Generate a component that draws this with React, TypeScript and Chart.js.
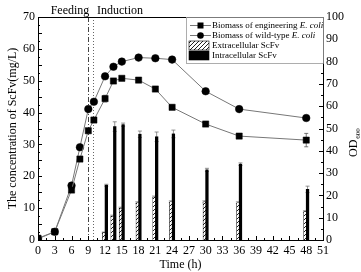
import { useEffect, useRef } from 'react';
import { Chart, registerables } from 'chart.js';

Chart.register(...registerables);

const SERIF = '"Liberation Serif", "Times New Roman", serif';

// Sampling times (h) for biomass (OD600)
const hours = [0, 3, 6, 7.5, 9, 10, 12, 13.5, 15, 18, 21, 24, 30, 36, 48];
const engineeringOD = [0.8, 3.7, 22.4, 36.3, 49.0, 53.8, 63.4, 71.3, 72.5, 71.7, 67.7, 59.5, 52.0, 46.6, 44.8];
const engineeringErr = [0, 0, 1, 1, 0.5, 0.5, 1.5, 1, 0.5, 0.5, 0.5, 1, 0.5, 1, 3];
const wildTypeOD = [0.5, 3.7, 24.4, 41.6, 58.7, 62.0, 73.4, 77.7, 80.0, 81.8, 81.5, 80.9, 66.7, 58.7, 54.7];
const wildTypeErr = [0, 0, 1, 1, 0.5, 0.5, 0.5, 0.5, 0.5, 0.5, 0.5, 0.5, 0.5, 0.5, 0.5];

// ScFv concentration (mg/L) after induction
const sampleHours = [12, 13.5, 15, 18, 21, 24, 30, 36, 48];
const extracellular = [2.3, 7.5, 10.0, 11.7, 13.5, 12.0, 12.0, 11.7, 8.9];
const extracellularErr = [0.2, 0.3, 0.3, 0.3, 0.3, 0.3, 0.3, 0.3, 0.3];
const intracellular = [17.2, 35.6, 36.2, 33.2, 32.4, 33.3, 22.0, 23.8, 15.9];
const intracellularErr = [0.3, 1.5, 0.5, 1.0, 1.5, 1.2, 0.5, 0.4, 1.0];

// Process events
const feedingHour = 9;
const inductionHour = 9.8;

// Axis ranges
const timeMax = 51;
const timeStep = 3;
const concMax = 70;
const concStep = 5;
const odMax = 100;
const odStep = 10;

const legendItems = [
  { label: 'Biomass of engineering ', italic: 'E. coli', kind: 'square' },
  { label: 'Biomass of wild-type ', italic: 'E. coli', kind: 'circle' },
  { label: 'Extracellular ScFv', italic: '', kind: 'hatch' },
  { label: 'Intracellular ScFv', italic: '', kind: 'solid' },
];

function makeHatch(): CanvasPattern | string {
  const c = document.createElement('canvas');
  c.width = 4;
  c.height = 4;
  const g = c.getContext('2d');
  if (!g) return '#999';
  g.fillStyle = '#fff';
  g.fillRect(0, 0, 4, 4);
  g.strokeStyle = '#222';
  g.lineWidth = 1;
  g.beginPath();
  g.moveTo(0, 4);
  g.lineTo(4, 0);
  g.moveTo(-1, 1);
  g.lineTo(1, -1);
  g.moveTo(3, 5);
  g.lineTo(5, 3);
  g.stroke();
  return g.createPattern(c, 'repeat') || '#999';
}

const decorations = {
  id: 'decorations',
  beforeDatasetsDraw(chart: any) {
    const { ctx, chartArea: a, scales } = chart;
    const x = scales.x;
    ctx.save();
    ctx.lineWidth = 1;
    const fx = Math.round(x.getPixelForValue(feedingHour)) + 0.5;
    ctx.strokeStyle = '#444';
    ctx.setLineDash([5, 2, 1, 2]);
    ctx.beginPath();
    ctx.moveTo(fx, a.top);
    ctx.lineTo(fx, a.bottom);
    ctx.stroke();
    const ix = Math.round(x.getPixelForValue(inductionHour)) + 0.5;
    ctx.strokeStyle = '#666';
    ctx.setLineDash([1, 2]);
    ctx.beginPath();
    ctx.moveTo(ix, a.top);
    ctx.lineTo(ix, a.bottom);
    ctx.stroke();
    ctx.setLineDash([]);

    // error bars
    chart.data.datasets.forEach((ds: any, i: number) => {
      const errs: number[] | undefined = ds.errors;
      if (!errs) return;
      const meta = chart.getDatasetMeta(i);
      const yScale = scales[ds.yAxisID];
      ctx.strokeStyle = ds.errorColor || '#555';
      ctx.lineWidth = 0.8;
      meta.data.forEach((el: any, j: number) => {
        const e = errs[j];
        if (!e) return;
        const v = ds.data[j].y;
        const px = el.x;
        const t = yScale.getPixelForValue(v + e);
        const b = yScale.getPixelForValue(v - e);
        ctx.beginPath();
        ctx.moveTo(px, t);
        ctx.lineTo(px, b);
        ctx.moveTo(px - 2, t);
        ctx.lineTo(px + 2, t);
        ctx.moveTo(px - 2, b);
        ctx.lineTo(px + 2, b);
        ctx.stroke();
      });
    });
    ctx.restore();
  },
  afterDraw(chart: any) {
    const { ctx, chartArea: a, scales } = chart;
    const x = scales.x;
    const yL = scales.yL;
    const yR = scales.yR;
    ctx.save();
    ctx.strokeStyle = '#000';
    ctx.lineWidth = 1;

    // top frame
    ctx.beginPath();
    ctx.moveTo(a.left, Math.round(a.top) + 0.5);
    ctx.lineTo(a.right, Math.round(a.top) + 0.5);
    ctx.stroke();

    // inward ticks
    ctx.beginPath();
    for (let v = 0; v <= timeMax + 1e-6; v += timeStep / 2) {
      const px = Math.round(x.getPixelForValue(v)) + 0.5;
      const len = Math.abs(v % timeStep) < 1e-6 ? 4 : 2;
      ctx.moveTo(px, a.bottom);
      ctx.lineTo(px, a.bottom - len);
    }
    for (let v = 0; v <= concMax + 1e-6; v += concStep / 2) {
      const py = Math.round(yL.getPixelForValue(v)) + 0.5;
      const len = Math.abs(v % concStep) < 1e-6 ? 4 : 2;
      ctx.moveTo(a.left, py);
      ctx.lineTo(a.left + len, py);
    }
    for (let v = 0; v <= odMax + 1e-6; v += odStep / 2) {
      const py = Math.round(yR.getPixelForValue(v)) + 0.5;
      const len = Math.abs(v % odStep) < 1e-6 ? 4 : 2;
      ctx.moveTo(a.right, py);
      ctx.lineTo(a.right - len, py);
    }
    ctx.stroke();

    ctx.fillStyle = '#000';
    ctx.textBaseline = 'alphabetic';

    // event labels above the plot
    ctx.font = `12px ${SERIF}`;
    ctx.textAlign = 'center';
    ctx.fillText('Feeding', 70, 13.5);
    ctx.fillText('Induction', 120, 13.5);

    // axis titles
    ctx.fillText('Time (h)', (a.left + a.right) / 2, 268);

    ctx.save();
    ctx.translate(16, (a.top + a.bottom) / 2);
    ctx.rotate(-Math.PI / 2);
    ctx.textAlign = 'center';
    ctx.fillText('The concentration of ScFv(mg/L)', 0, 0);
    ctx.restore();

    ctx.save();
    ctx.translate(357, 157);
    ctx.rotate(-Math.PI / 2);
    ctx.textAlign = 'left';
    ctx.font = `12px ${SERIF}`;
    ctx.fillText('OD', 0, 0);
    const odW = ctx.measureText('OD').width;
    ctx.font = `7px ${SERIF}`;
    ctx.fillText('600', odW + 1, 3);
    ctx.restore();

    // legend
    const lx = 186;
    const ly = Math.round(a.top);
    const lw = Math.round(a.right) - lx;
    const lh = 46;
    ctx.fillStyle = '#fff';
    ctx.fillRect(lx, ly + 1, lw, lh);
    ctx.strokeStyle = '#999';
    ctx.lineWidth = 0.8;
    ctx.strokeRect(lx + 0.5, ly + 0.5, lw, lh);
    const hatch = makeHatch();
    legendItems.forEach((it, k) => {
      const cy = 25.5 + k * 10;
      if (it.kind === 'square' || it.kind === 'circle') {
        ctx.strokeStyle = '#777';
        ctx.lineWidth = 1;
        ctx.beginPath();
        ctx.moveTo(190, cy);
        ctx.lineTo(211, cy);
        ctx.stroke();
        ctx.fillStyle = '#000';
        if (it.kind === 'square') {
          ctx.fillRect(197.5, cy - 3, 6, 6);
        } else {
          ctx.beginPath();
          ctx.arc(200.5, cy, 3.3, 0, Math.PI * 2);
          ctx.fill();
        }
      } else {
        ctx.fillStyle = it.kind === 'hatch' ? hatch : '#000';
        ctx.fillRect(189, cy - 4.5, 20, 9);
        ctx.strokeStyle = '#000';
        ctx.lineWidth = 0.6;
        ctx.strokeRect(189, cy - 4.5, 20, 9);
      }
      ctx.fillStyle = '#000';
      ctx.textAlign = 'left';
      ctx.textBaseline = 'middle';
      ctx.font = `9px ${SERIF}`;
      ctx.fillText(it.label, 212, cy);
      if (it.italic) {
        const w = ctx.measureText(it.label).width;
        ctx.font = `italic 9px ${SERIF}`;
        ctx.fillText(it.italic, 212 + w, cy);
      }
    });
    ctx.restore();
  },
};

export default function App() {
  const ref = useRef<HTMLCanvasElement | null>(null);

  useEffect(() => {
    const canvas = ref.current;
    if (!canvas) return;
    const hatch = makeHatch();
    const pts = (xs: number[], ys: number[]) => xs.map((h, i) => ({ x: h, y: ys[i] }));
    const tickFont = { family: SERIF, size: 12 };

    const chart = new Chart(canvas, {
      type: 'bar',
      data: {
        datasets: [
          {
            type: 'line',
            label: 'Biomass of engineering E. coli',
            data: pts(hours, engineeringOD),
            yAxisID: 'yR',
            borderColor: '#777',
            borderWidth: 1,
            pointStyle: 'rect',
            pointRadius: 4.4,
            pointBackgroundColor: '#000',
            pointBorderColor: '#000',
            pointBorderWidth: 0.5,
            tension: 0,
            order: 0,
            errors: engineeringErr,
            errorColor: '#555',
          } as any,
          {
            type: 'line',
            label: 'Biomass of wild-type E. coli',
            data: pts(hours, wildTypeOD),
            yAxisID: 'yR',
            borderColor: '#777',
            borderWidth: 1,
            pointStyle: 'circle',
            pointRadius: 3.8,
            pointBackgroundColor: '#000',
            pointBorderColor: '#000',
            pointBorderWidth: 0.5,
            tension: 0,
            order: 0,
            errors: wildTypeErr,
            errorColor: '#555',
          } as any,
          {
            type: 'bar',
            label: 'Extracellular ScFv',
            data: pts(sampleHours, extracellular),
            yAxisID: 'yL',
            backgroundColor: hatch,
            borderColor: '#000',
            borderWidth: 0.6,
            barThickness: 2.6,
            order: 1,
            errors: extracellularErr,
            errorColor: '#888',
          } as any,
          {
            type: 'bar',
            label: 'Intracellular ScFv',
            data: pts(sampleHours, intracellular),
            yAxisID: 'yL',
            backgroundColor: '#000',
            borderWidth: 0,
            barThickness: 2.6,
            order: 1,
            errors: intracellularErr,
            errorColor: '#777',
          } as any,
        ],
      },
      options: {
        animation: false,
        responsive: false,
        devicePixelRatio: 1,
        layout: { padding: { top: 17, left: 0, right: 0, bottom: 0 } },
        plugins: { legend: { display: false }, tooltip: { enabled: false } },
        scales: {
          x: {
            type: 'linear',
            min: 0,
            max: timeMax,
            offset: false,
            grid: { display: false, drawTicks: false },
            border: { display: true, color: '#000', width: 1 },
            ticks: {
              stepSize: timeStep,
              autoSkip: false,
              maxRotation: 0,
              color: '#000',
              font: tickFont,
              padding: 4,
            },
            afterFit: (s: any) => {
              s.height = 32;
            },
          },
          yL: {
            type: 'linear',
            position: 'left',
            min: 0,
            max: concMax,
            grid: { display: false, drawTicks: false },
            border: { display: true, color: '#000', width: 1 },
            ticks: { stepSize: concStep, color: '#000', font: tickFont, padding: 3 },
            afterFit: (s: any) => {
              s.width = 38;
            },
          },
          yR: {
            type: 'linear',
            position: 'right',
            min: 0,
            max: odMax,
            grid: { display: false, drawTicks: false },
            border: { display: true, color: '#000', width: 1 },
            ticks: { stepSize: odStep, color: '#000', font: tickFont, padding: 3 },
            afterFit: (s: any) => {
              s.width = 38;
            },
          },
        },
      } as any,
      plugins: [decorations],
    });
    return () => chart.destroy();
  }, []);

  return (
    <div style={{ position: 'fixed', left: 0, top: 0, width: 361, height: 272, background: '#fff' }}>
      <canvas ref={ref} width={361} height={272} style={{ display: 'block' }} />
    </div>
  );
}
